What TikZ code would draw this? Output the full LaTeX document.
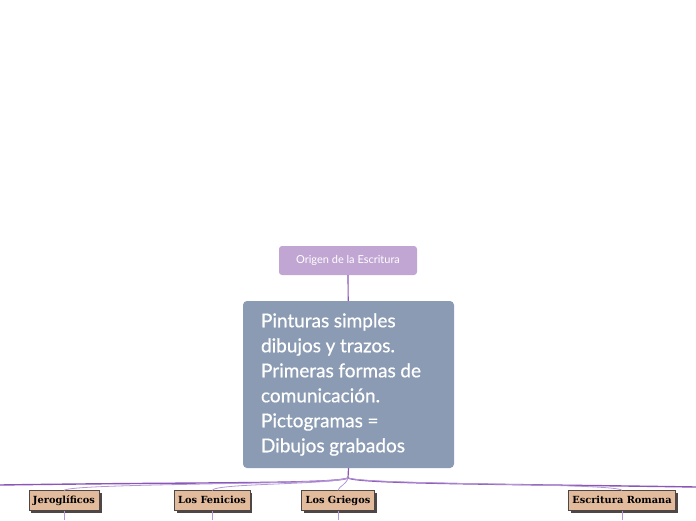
\documentclass[tikz,border=0pt]{standalone}
\usepackage{fontspec}
\setmainfont{Lato}
\usetikzlibrary{positioning, shadows, calc}
\newfontfamily\boxfont{DejaVu Serif}
\newfontfamily\gruesa[FakeBold=0.6]{Lato}
\newcommand\apretado{\spaceskip=4.6pt plus 1pt minus 1pt\relax}

\definecolor{lila}{HTML}{C1A6D3}
\definecolor{pizarra}{HTML}{8A9BB3}
\definecolor{morado}{HTML}{8A56B8}
\definecolor{lavanda}{HTML}{B596D6}
\definecolor{arena}{HTML}{E2BA9C}
\definecolor{sombra}{HTML}{4F4646}

\tikzset{
    titlebox/.style={fill=lila, rounded corners=3pt, text=white, minimum width=138pt, minimum height=29pt, font=\fontsize{11}{13}\selectfont, inner sep=0pt},
    mainbox/.style={fill=pizarra, rounded corners=4pt, text=white, minimum width=211pt, minimum height=167pt, font=\gruesa\fontsize{19}{25}\selectfont, align=left, text width=175pt, inner sep=0pt},
    topicbox/.style={fill=arena, draw=sombra, line width=0.6pt, minimum height=19.5pt, text height=7.5pt, text depth=2pt, inner xsep=4pt, inner ysep=0pt, font=\boxfont\bfseries\fontsize{9.8}{11}\selectfont, drop shadow={shadow xshift=2.5pt, shadow yshift=-2.5pt, fill=sombra, opacity=1}},
    link/.style={draw=morado, line width=1.2pt},
    trunk/.style={draw=morado, line width=1.4pt},
    branch/.style={draw=lavanda, line width=0.8pt},
}

\begin{document}
\begin{tikzpicture}[x=1pt, y=-1pt]
    \useasboundingbox (0,0) rectangle (696,520);

    % Root node
    \node[titlebox] (origen) at (348,260.5) {Origen de la Escritura};

    % Main node
    \node[mainbox] (pinturas) at (348.5,384.5) {\apretado Pinturas simples\\dibujos y trazos.\\Primeras formas de\\comunicación.\\Pictogramas =\\Dibujos grabados};
    \draw[link] (origen) -- (pinturas);

    % Hub and off-page ends
    \coordinate (hub) at (348,478);
    \coordinate (izq) at (0,485);
    \coordinate (der) at (696,487);
    \draw[link] (pinturas.south) -- (hub);
    \draw[trunk] (hub) .. controls (335,484) and (200,482) .. (izq);
    \draw[trunk] (hub) .. controls (362,484) and (500,484) .. (der);

    % Topic nodes
    \foreach \name/\x/\txt in {jero/64/Jeroglíficos, feni/212/Los Fenicios, grie/338/Los Griegos, roma/622/Escritura Romana} {
        \node[topicbox] (\name) at (\x,500.5) {\txt};
        \coordinate (\name-fin) at (\x,520);
        \draw[branch] (\name.south) -- (\name-fin);
    }
    \draw[branch] (hub) .. controls (330,485) and (70,483) .. (jero.north);
    \draw[branch] (hub) .. controls (330,485) and (215,483) .. (feni.north);
    \draw[branch] (hub) .. controls (346,485) and (339,486) .. (grie.north);
    \draw[branch] (hub) .. controls (370,485) and (620,483) .. (roma.north);
\end{tikzpicture}
\end{document}
